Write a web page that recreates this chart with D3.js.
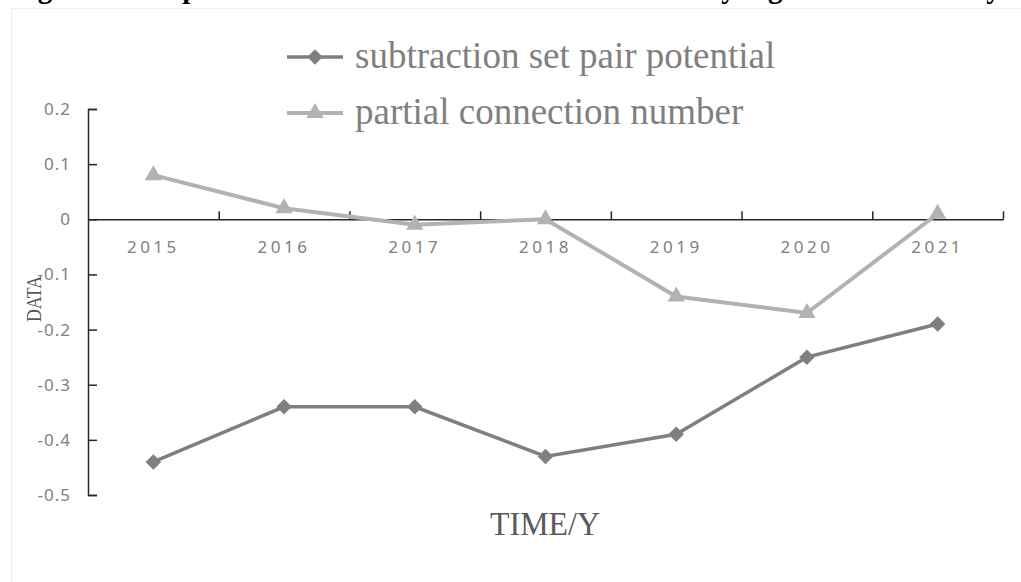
<!DOCTYPE html>
<html><head><meta charset="utf-8">
<script src="https://cdn.jsdelivr.net/npm/d3@7"></script>
<style>html,body{margin:0;padding:0;background:#fff;overflow:hidden}svg{display:block}</style>
</head><body>
<svg id="c" width="1021" height="582"></svg>
<script>
const years = ["2015","2016","2017","2018","2019","2020","2021"];
const subtractionSetPairPotential = [-0.44,-0.34,-0.34,-0.43,-0.39,-0.25,-0.19];
const partialConnectionNumber = [0.08,0.02,-0.01,0.0,-0.14,-0.17,0.01];
const yTicks = [0.2,0.1,0,-0.1,-0.2,-0.3,-0.4,-0.5];
const seriesNames = ["subtraction set pair potential","partial connection number"];
const titleParts = ["Figure 4 Comparison of the two indexes in the","study","growth trend","by","year"];

const svg = d3.select("#c");
// chart area border
svg.append("rect").attr("x",11.5).attr("y",8.5).attr("width",1030).attr("height",600)
  .attr("fill","none").attr("stroke","#efefef").attr("stroke-width",1);
// title, cut off at the top edge (only descenders visible)
const tt = svg.append("text").attr("y",-2).attr("font-family","'Liberation Serif','Times New Roman',serif")
  .attr("font-weight","bold").attr("font-size",29).attr("fill","#000");
const titleX = [12,668,768,970,1030];
titleParts.forEach((t,i)=> tt.append("tspan").attr("x",titleX[i]).text(t));

const L=88, R=1003;
const x = d3.scaleBand().domain(years).range([L,R]).padding(0);
const xb = d3.scaleLinear().domain([0,years.length]).range([L,R]);
const y = d3.scaleLinear().domain([-0.5,0.2]).range([495,109]);

// y axis
const ya = svg.append("g").attr("transform",`translate(${L},0)`)
  .call(d3.axisLeft(y).tickValues(yTicks).tickSize(-9).tickSizeOuter(-9).tickPadding(17)
    .tickFormat(d=> d===0 ? "0" : d.toFixed(1)));
ya.selectAll("path,line").attr("stroke","#262626").attr("stroke-width",1.5);
ya.selectAll("text").attr("font-family","'Noto Sans',sans-serif").attr("font-size",17)
  .attr("fill","#7f7f7f").attr("letter-spacing","1px");

// x axis on zero line: boundary ticks upward
const xa = svg.append("g").attr("transform",`translate(0,${y(0)})`)
  .call(d3.axisTop(xb).tickValues(d3.range(1,years.length+1)).tickSize(8).tickSizeOuter(0).tickFormat(""));
xa.selectAll("path,line").attr("stroke","#262626").attr("stroke-width",1.5);
const xl = svg.append("g").attr("transform",`translate(0,${y(0)})`)
  .call(d3.axisBottom(x).tickSize(0).tickPadding(0));
xl.select(".domain").remove();
xl.selectAll("text").attr("y",34).attr("dy",0).attr("font-family","'Noto Sans',sans-serif")
  .attr("font-size",17).attr("fill","#7f7f7f").attr("letter-spacing","3.5px");

const cx = d => x(d)+x.bandwidth()/2;
const line = d3.line().x((d,i)=>cx(years[i])).y(d=>y(d));
const dark="#7f7f7f", light="#b2b2b2";
const diamond = d3.symbol().type(d3.symbolSquare).size(120);
const tri = d3.symbol().type(d3.symbolTriangle).size(130);

svg.append("path").datum(partialConnectionNumber).attr("d",line).attr("fill","none")
  .attr("stroke",light).attr("stroke-width",4);
svg.append("path").datum(subtractionSetPairPotential).attr("d",line).attr("fill","none")
  .attr("stroke",dark).attr("stroke-width",3.5);
svg.selectAll(".tri").data(partialConnectionNumber).join("path")
  .attr("d",tri).attr("fill",light)
  .attr("transform",(d,i)=>`translate(${cx(years[i])},${y(d)})`);
svg.selectAll(".dia").data(subtractionSetPairPotential).join("path")
  .attr("d",diamond).attr("fill",dark)
  .attr("transform",(d,i)=>`translate(${cx(years[i])},${y(d)}) rotate(45)`);

// legend
const leg = [{c:dark, s:diamond, r:45, ly:57, ty:68},{c:light, s:tri, r:0, ly:113, ty:124}];
leg.forEach((l,i)=>{
  svg.append("line").attr("x1",287).attr("x2",343).attr("y1",l.ly).attr("y2",l.ly)
    .attr("stroke",l.c).attr("stroke-width",i?4:3.5);
  svg.append("path").attr("d",l.s).attr("fill",l.c)
    .attr("transform",`translate(315,${l.ly}) rotate(${l.r})`);
  svg.append("text").attr("x",355).attr("y",l.ty)
    .attr("font-family","'Liberation Serif','Times New Roman',serif").attr("font-size",37)
    .attr("fill","#7f7f7f").text(seriesNames[i]);
});

// axis titles
svg.append("text").attr("transform","translate(41,299) rotate(-90)").attr("text-anchor","middle")
  .attr("font-family","'Liberation Serif','Times New Roman',serif").attr("font-size",22)
  .attr("textLength",46).attr("lengthAdjust","spacingAndGlyphs")
  .attr("fill","#595959").text("DATA");
svg.append("text").attr("x",545).attr("y",535).attr("text-anchor","middle")
  .attr("font-family","'Liberation Serif','Times New Roman',serif").attr("font-size",33)
  .attr("textLength",110).attr("lengthAdjust","spacingAndGlyphs")
  .attr("fill","#595959").text("TIME/Y");
</script>
</body></html>
